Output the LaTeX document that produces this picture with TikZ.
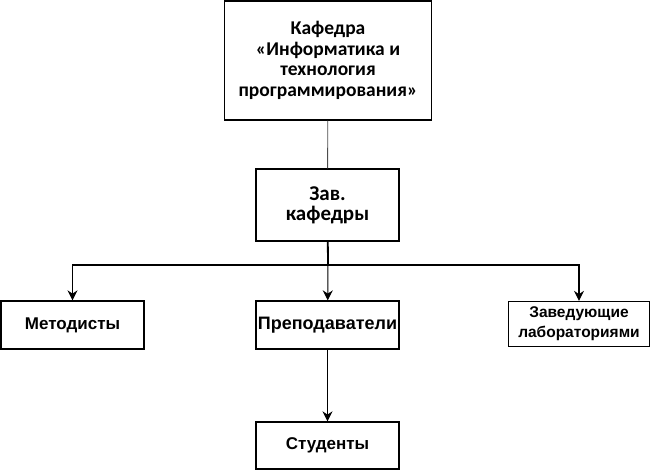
\documentclass[tikz,border=0pt]{standalone}
\usepackage{fontspec}
\setmainfont{Liberation Sans}
\newfontfamily\calfont{Carlito}
\usetikzlibrary{arrows.meta}
\tikzset{unit/.style={draw,line width=1.3pt,fill=white,font=\bfseries\fontsize{17}{20}\selectfont,align=center,inner sep=1pt},
  headunit/.style={unit,font=\calfont\bfseries\fontsize{19.5}{20.5}\selectfont}}

\begin{document}
\begin{tikzpicture}[x=1pt,y=-1pt,>={Stealth[length=10pt,width=10pt]}]
\useasboundingbox (0,0) rectangle (654,472);
\node[headunit,minimum width=207pt,minimum height=119pt] (kaf) at (328,60.5) {Кафедра\\«Информатика и\\технология\\программирования»};
\node[headunit,minimum width=143pt,minimum height=72pt,font=\calfont\bfseries\fontsize{21}{20}\selectfont] (zav) at (327.5,205) {Зав.\\кафедры};
\node[unit,minimum width=143pt,minimum height=48pt] (met) at (72.5,325) {Методисты};
\node[unit,minimum width=143pt,minimum height=48pt,font=\bfseries\fontsize{18}{20}\selectfont] (pre) at (327.5,325) {Преподаватели};
\node[unit,minimum width=141pt,minimum height=45pt,font=\bfseries\fontsize{15.5}{20}\selectfont] (lab) at (579,324) {Заведующие\\лабораториями};
\node[unit,minimum width=143pt,minimum height=47pt] (stu) at (327.5,445.5) {Студенты};
\coordinate (bus) at (328,265);
\draw[line width=0.9pt,black!70] (kaf) -- (zav);
\draw[line width=1.8pt] (zav) -- (bus);
\draw[->,line width=1.2pt] (bus) -| (met);
\draw[->,line width=1.2pt] (bus) -| (lab);
\draw[->,line width=1pt] (bus) -- (pre);
\draw[->,line width=1pt] (pre) -- (stu);
\end{tikzpicture}
\end{document}
